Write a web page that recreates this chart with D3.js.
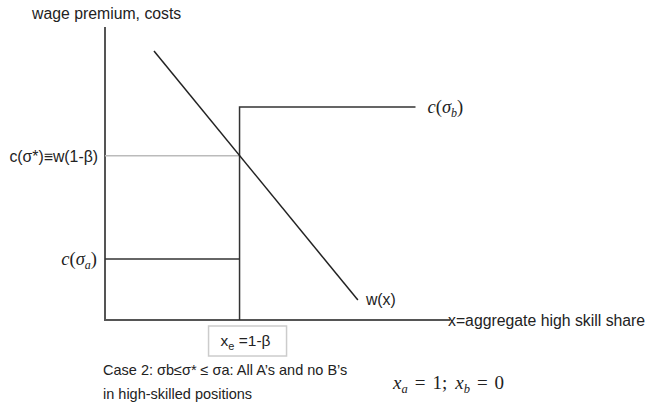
<!DOCTYPE html>
<html><head><meta charset="utf-8">
<script src="https://cdn.jsdelivr.net/npm/d3@7"></script>
<style>body{margin:0;background:#fff}svg{display:block}</style>
</head><body><div id="c"></div>
<script>
// Abstract diagram values (data units)
const xDomain = [0, 10];
const yDomain = [0, 10];
const xe = 3.9;              // x_e = 1-β
const cSigmaA = 2.08;        // c(σ_a)
const cStar = 5.61;          // c(σ*) ≡ w(1-β)
const cSigmaB = 7.27;        // c(σ_b)
const cSigmaBEnd = 9.0;      // end of c(σ_b) segment
const wPoints = [[1.42, 9.18], [7.33, 0.68]]; // w(x)
const yLabels = ["c(σ*)≡w(1-β)"];
const captionLines = ["Case 2: σb≤σ* ≤ σa: All A’s and no B’s", "in high-skilled positions"];

const W = 650, H = 410;
const svg = d3.select("#c").append("svg").attr("width", W).attr("height", H);
const x = d3.scaleLinear().domain(xDomain).range([105, 450]);
const y = d3.scaleLinear().domain(yDomain).range([320, 27]);
const sans = "Liberation Sans, Arial, Helvetica, sans-serif";
const serif = "Liberation Serif, Times New Roman, serif";
const line = d3.line().x(d => x(d[0])).y(d => y(d[1]));

// axes
svg.append("path").attr("d", line([[0, 10], [0, 0], [10, 0]]))
  .attr("fill", "none").attr("stroke", "#555").attr("stroke-width", 2);

// gray guide line
svg.append("path").attr("d", line([[0, cStar], [xe, cStar]]))
  .attr("stroke", "#bbb").attr("stroke-width", 1.5);

// cost step function
svg.append("path").attr("d", line([[0, cSigmaA], [xe, cSigmaA]]))
  .attr("stroke", "#333").attr("stroke-width", 1.5);
svg.append("path").attr("d", line([[xe, 0], [xe, cSigmaB], [cSigmaBEnd, cSigmaB]]))
  .attr("fill", "none").attr("stroke", "#333").attr("stroke-width", 1.5);

// w(x)
svg.append("path").attr("d", line(wPoints))
  .attr("stroke", "#222").attr("stroke-width", 1.5);

// texts
svg.append("text").attr("x", 32).attr("y", 19).attr("font-family", sans)
  .attr("font-size", 15.8).attr("fill", "#222").text("wage premium, costs");

svg.append("text").attr("x", 98).attr("y", y(cStar) + 6).attr("text-anchor", "end")
  .attr("font-family", sans).attr("font-size", 15.8).attr("fill", "#222").text(yLabels[0]);

function cLabel(xx, yy, sub, anchor) {
  const t = svg.append("text").attr("x", xx).attr("y", yy).attr("text-anchor", anchor)
    .attr("font-family", serif).attr("font-size", 18.5).attr("fill", "#222");
  t.append("tspan").attr("font-style", "italic").text("c");
  t.append("tspan").text("(");
  t.append("tspan").attr("font-style", "italic").text("σ");
  t.append("tspan").attr("font-style", "italic").attr("font-size", 12).attr("dy", 4).text(sub);
  t.append("tspan").attr("dy", -4).text(")");
}
cLabel(97, y(cSigmaA) + 6, "a", "end");
cLabel(x(cSigmaBEnd) + 12, y(cSigmaB) + 6, "b", "start");

svg.append("text").attr("x", x(wPoints[1][0]) + 8).attr("y", y(wPoints[1][1]) + 5)
  .attr("font-family", sans).attr("font-size", 15.8).attr("fill", "#222").text("w(x)");

svg.append("text").attr("x", 448).attr("y", 325.5)
  .attr("font-family", sans).attr("font-size", 15.8).attr("fill", "#222").text("x=aggregate high skill share");

// x_e box
svg.append("rect").attr("x", x(xe) - 31).attr("y", 326).attr("width", 78).attr("height", 30)
  .attr("fill", "#fff").attr("stroke", "#ccc").attr("stroke-width", 1.5);
const xt = svg.append("text").attr("x", x(xe) + 6).attr("y", 346).attr("text-anchor", "middle")
  .attr("font-family", sans).attr("font-size", 15.5).attr("fill", "#222");
xt.append("tspan").text("x");
xt.append("tspan").attr("font-size", 11).attr("dy", 4).text("e");
xt.append("tspan").attr("dy", -4).text(" =1-β");

// caption
captionLines.forEach((s, i) => {
  svg.append("text").attr("x", 103).attr("y", 375 + i * 24).attr("font-family", sans)
    .attr("font-size", 14.5).attr("fill", "#222").text(s);
});

const xa = svg.append("text").attr("x", 393).attr("y", 389)
  .attr("font-family", serif).attr("font-size", 19).attr("fill", "#222");
xa.append("tspan").attr("font-style", "italic").text("x");
xa.append("tspan").attr("font-style", "italic").attr("font-size", 12.5).attr("dy", 4).text("a");
xa.append("tspan").attr("dy", -4).attr("dx", 7).text("=");
xa.append("tspan").attr("dx", 7).text("1;");
xa.append("tspan").attr("dx", 8).attr("font-style", "italic").text("x");
xa.append("tspan").attr("font-style", "italic").attr("font-size", 12.5).attr("dy", 4).text("b");
xa.append("tspan").attr("dy", -4).attr("dx", 7).text("=");
xa.append("tspan").attr("dx", 7).text("0");
</script></body></html>
